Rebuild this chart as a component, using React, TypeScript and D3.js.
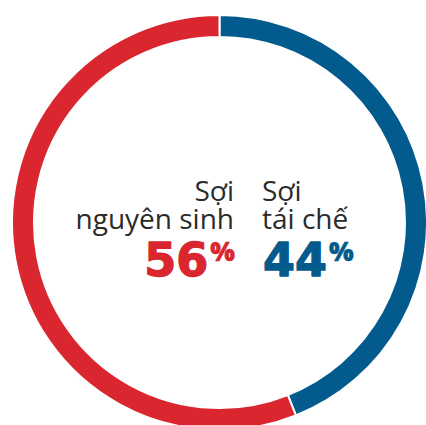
import * as React from 'react';
import * as d3 from 'd3';

const labels = ['Sợi tái chế', 'Sợi nguyên sinh'];
const labelLines = [['Sợi', 'tái chế'], ['Sợi', 'nguyên sinh']];
const values = [44, 56];
const colors = ['#035b8d', '#d9262f'];

const W = 426, H = 425;
const cx = 219.5, cy = 222.5;
const outerR = 207.5, innerR = 185.5;

export default function App() {
  const pie = d3.pie<number>().sort(null).value(d => d);
  const arcs = pie(values);
  const arc = d3.arc<d3.PieArcDatum<number>>().innerRadius(innerR).outerRadius(outerR);

  const font = '"Open Sans", "DejaVu Sans", sans-serif';
  const numFont = '"DejaVu Sans", sans-serif';

  return (
    <svg width={W} height={H} style={{ position: 'absolute', left: 0, top: 0 }}>
      <g transform={`translate(${cx},${cy})`}>
        {arcs.map((a, i) => (
          <path key={labels[i]} d={arc(a) || ''} fill={colors[i]} stroke="#fff" strokeWidth={2} />
        ))}
      </g>
      <g fontFamily={font} fill="#2b2b2b" fontSize={28}>
        {labelLines[0].map((t, j) => (
          <text key={t} x={262} y={201 + j * 28}>{t}</text>
        ))}
        {labelLines[1].map((t, j) => (
          <text key={t} x={234} y={201 + j * 28} textAnchor="end">{t}</text>
        ))}
      </g>
      <text x={263} y={276} fontFamily={numFont} fontWeight={700} fontSize={46} fill={colors[0]}
        stroke={colors[0]} strokeWidth={1.3} strokeLinejoin="round">
        {values[0]}
        <tspan fontFamily={font} fontWeight={800} fontSize={26} dy={-15} dx={2} strokeWidth={0.5}>%</tspan>
      </text>
      <text x={235} y={276} fontFamily={numFont} fontWeight={700} fontSize={46} fill={colors[1]} textAnchor="end"
        stroke={colors[1]} strokeWidth={1.3} strokeLinejoin="round">
        {values[1]}
        <tspan fontFamily={font} fontWeight={800} fontSize={26} dy={-15} dx={2} strokeWidth={0.5}>%</tspan>
      </text>
    </svg>
  );
}
